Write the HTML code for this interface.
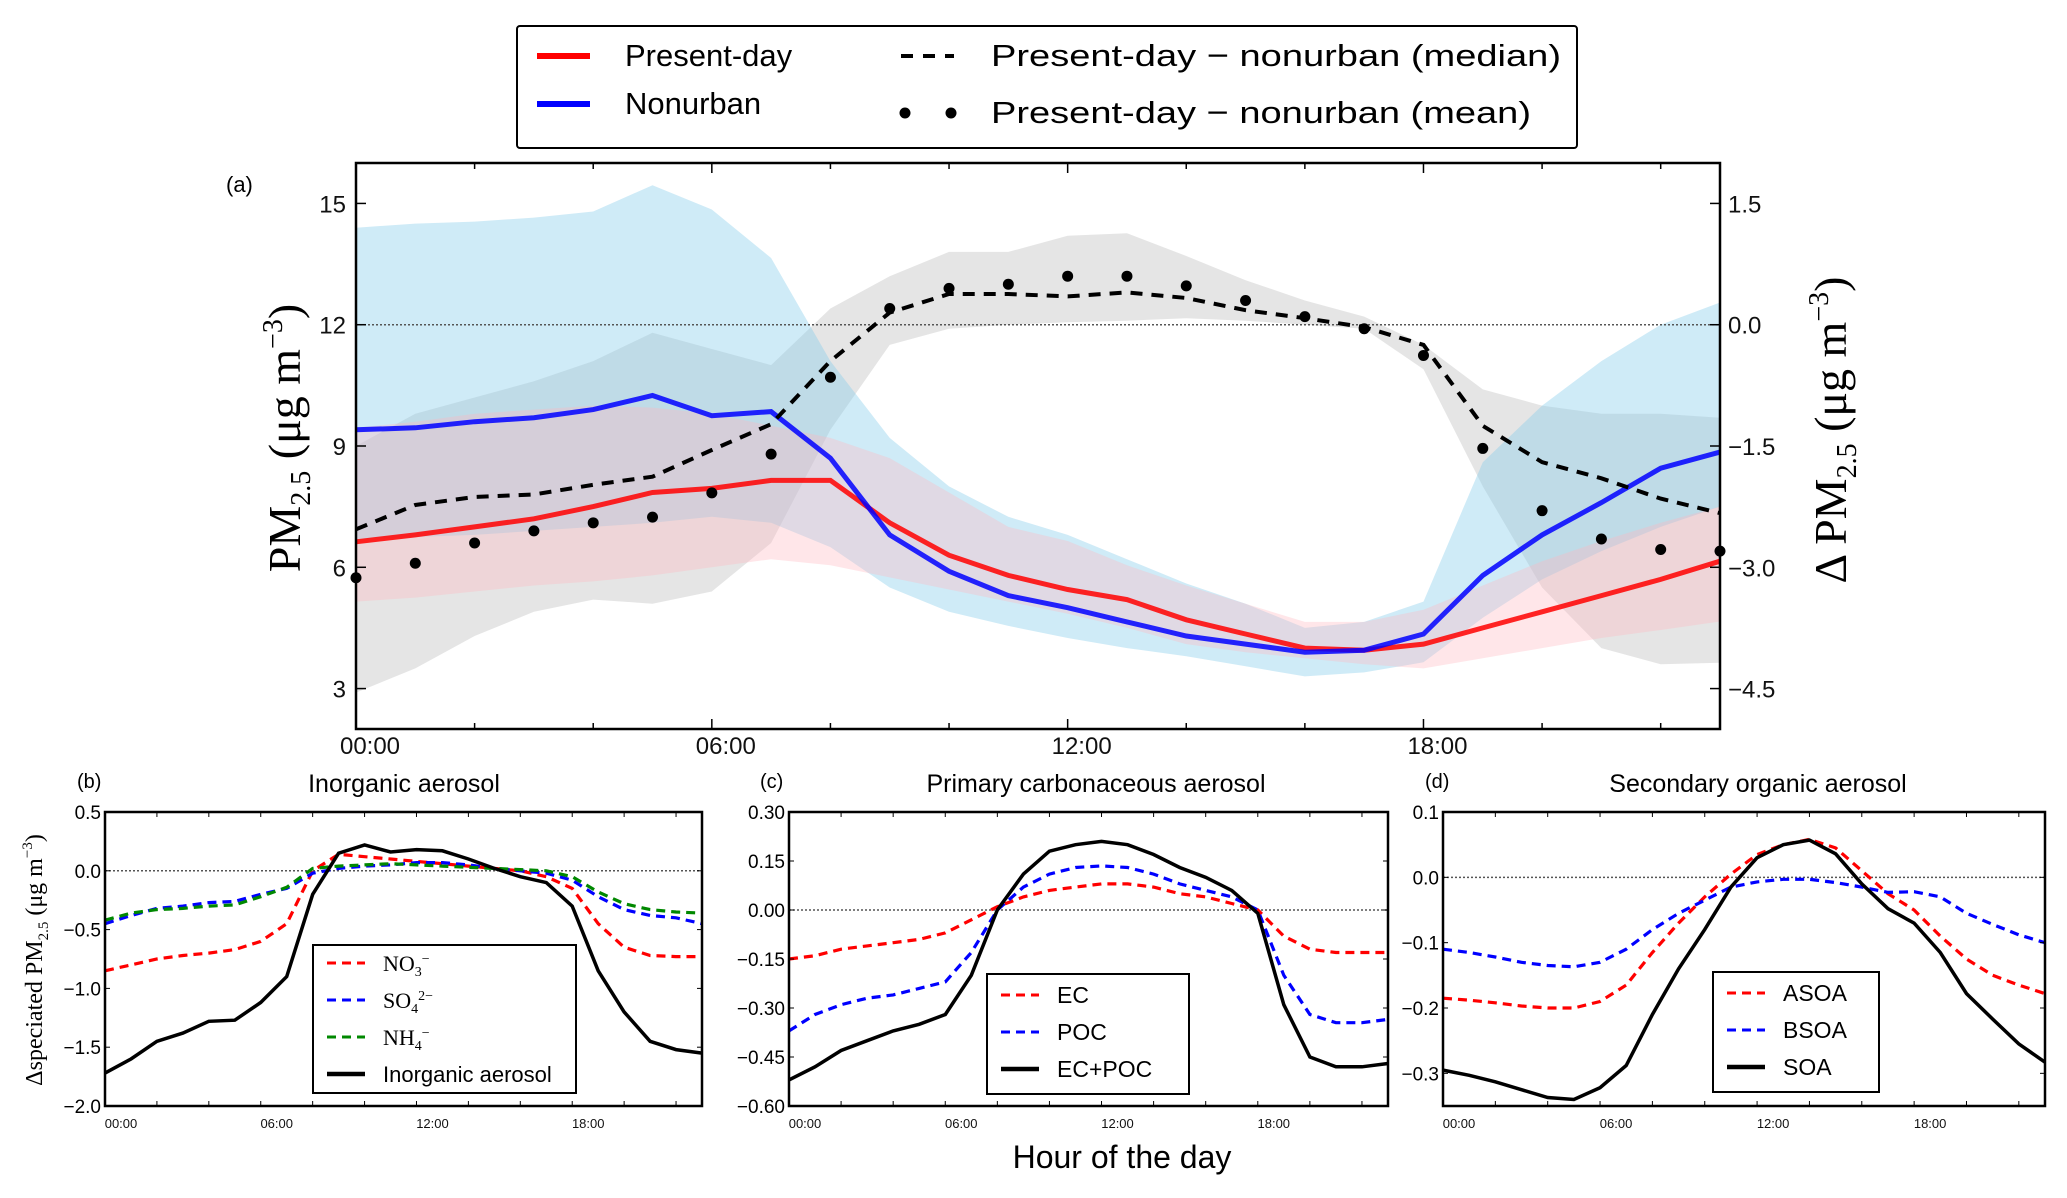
<!DOCTYPE html>
<html><head><meta charset="utf-8"><style>
html,body{margin:0;padding:0;background:#fff;}
svg{display:block;font-family:"Liberation Sans",sans-serif;}
.tk{font-size:24px;fill:#111;}
.tks{font-size:13px;fill:#111;}
</style></head><body>
<svg id="chart" width="2067" height="1198" viewBox="0 0 2067 1198" xmlns="http://www.w3.org/2000/svg">
<rect width="2067" height="1198" fill="#fff"/>
<g id="main"></g>
<g id="pb"></g>
<g id="pc"></g>
<g id="pd"></g>

<g>
<rect x="517" y="26" width="1060" height="122" fill="#fff" stroke="#000" stroke-width="2" rx="3"/>
<line x1="537" y1="56" x2="590" y2="56" stroke="#f00" stroke-width="6"/>
<text x="625" y="66" font-size="31">Present-day</text>
<line x1="537" y1="104" x2="590" y2="104" stroke="#00f" stroke-width="6"/>
<text x="625" y="114" font-size="31">Nonurban</text>
<line x1="901" y1="56" x2="954" y2="56" stroke="#000" stroke-width="4" stroke-dasharray="12,10"/>
<text x="991" y="66" font-size="31" textLength="570" lengthAdjust="spacingAndGlyphs">Present-day − nonurban (median)</text>
<circle cx="905" cy="113" r="5.5" fill="#000"/><circle cx="951" cy="113" r="5.5" fill="#000"/>
<text x="991" y="123" font-size="31" textLength="540" lengthAdjust="spacingAndGlyphs">Present-day − nonurban (mean)</text>
</g>

<text x="226" y="192" font-size="22">(a)</text>
<text transform="translate(300,438) rotate(-90)" text-anchor="middle" font-family="Liberation Serif,serif" font-size="46">PM<tspan font-size="28" dy="10">2.5</tspan><tspan dy="-10"> (μg m</tspan><tspan font-size="28" dy="-18">−3</tspan><tspan dy="18">)</tspan></text>
<text transform="translate(1846,430) rotate(-90)" text-anchor="middle" font-family="Liberation Serif,serif" font-size="46">Δ PM<tspan font-size="28" dy="10">2.5</tspan><tspan dy="-10"> (μg m</tspan><tspan font-size="28" dy="-18">−3</tspan><tspan dy="18">)</tspan></text>

<text x="77" y="788" font-size="20">(b)</text>
<text x="404" y="792" font-size="25" text-anchor="middle">Inorganic aerosol</text>
<text x="760" y="788" font-size="20">(c)</text>
<text x="1096" y="792" font-size="25" text-anchor="middle">Primary carbonaceous aerosol</text>
<text x="1425" y="788" font-size="20">(d)</text>
<text x="1758" y="792" font-size="25" text-anchor="middle">Secondary organic aerosol</text>
<text transform="translate(42,960) rotate(-90)" text-anchor="middle" font-family="Liberation Serif,serif" font-size="24">Δspeciated PM<tspan font-size="15" dy="6">2.5</tspan><tspan dy="-6"> (μg m</tspan><tspan font-size="15" dy="-10">−3</tspan><tspan dy="10">)</tspan></text>
<text x="1122" y="1168" font-size="32" text-anchor="middle">Hour of the day</text>
</svg>
<script>
const hours=[0,1,2,3,4,5,6,7,8,9,10,11,12,13,14,15,16,17,18,19,20,21,22,23];
const presentDay=[6.63,6.8,7.0,7.2,7.5,7.85,7.95,8.15,8.15,7.1,6.3,5.8,5.45,5.2,4.7,4.35,4.0,3.95,4.1,4.5,4.9,5.3,5.7,6.15];
const presentUpper=[9.45,9.6,9.8,9.9,10.0,9.95,9.8,9.5,9.2,8.7,7.85,7.0,6.65,6.05,5.55,5.1,4.65,4.65,4.95,5.55,6.15,6.65,7.1,7.5];
const presentLower=[5.15,5.25,5.4,5.55,5.65,5.8,6.0,6.2,6.05,5.75,5.45,5.15,4.85,4.5,4.1,3.9,3.75,3.6,3.5,3.75,4.0,4.25,4.45,4.66];
const nonurban=[9.4,9.45,9.6,9.7,9.9,10.25,9.75,9.85,8.7,6.8,5.9,5.3,5.0,4.65,4.3,4.1,3.9,3.95,4.35,5.8,6.8,7.6,8.45,8.85];
const nonurbanUpper=[14.4,14.5,14.55,14.65,14.8,15.45,14.85,13.65,11.1,9.2,8.0,7.25,6.8,6.2,5.6,5.1,4.5,4.65,5.15,8.6,10.0,11.1,12.0,12.55];
const nonurbanLower=[6.7,6.75,6.8,6.9,7.0,7.1,7.25,7.1,6.5,5.5,4.9,4.55,4.25,4.0,3.8,3.55,3.3,3.4,3.65,4.75,5.7,6.4,7.0,7.5];
const diffMedian=[-2.53,-2.23,-2.13,-2.1,-1.98,-1.88,-1.55,-1.23,-0.45,0.15,0.38,0.38,0.35,0.4,0.33,0.18,0.08,-0.03,-0.25,-1.25,-1.7,-1.9,-2.15,-2.33];
const diffMean=[-3.13,-2.95,-2.7,-2.55,-2.45,-2.38,-2.08,-1.6,-0.65,0.2,0.45,0.5,0.6,0.6,0.48,0.3,0.1,-0.05,-0.38,-1.53,-2.3,-2.65,-2.78,-2.8];
const diffUpper=[-1.5,-1.1,-0.9,-0.7,-0.45,-0.1,-0.3,-0.5,0.2,0.6,0.9,0.9,1.1,1.13,0.85,0.55,0.3,0.1,-0.25,-0.8,-1.0,-1.1,-1.1,-1.15];
const diffLower=[-4.55,-4.25,-3.85,-3.55,-3.4,-3.45,-3.3,-2.7,-1.3,-0.25,-0.05,0.0,0.03,0.05,0.08,0.05,0.0,-0.05,-0.55,-2.0,-3.25,-4.0,-4.2,-4.18];
const leftTicks=[3,6,9,12,15];
const rightTicks=[-4.5,-3.0,-1.5,0.0,1.5];
const timeTicks=[0,6,12,18];
const timeLabels=["00:00","06:00","12:00","18:00"];

const no3=[-0.85,-0.8,-0.75,-0.72,-0.7,-0.67,-0.6,-0.45,0.0,0.14,0.12,0.1,0.08,0.06,0.04,0.02,0.0,-0.05,-0.15,-0.45,-0.65,-0.72,-0.73,-0.73];
const so4=[-0.45,-0.38,-0.32,-0.3,-0.27,-0.26,-0.2,-0.15,-0.02,0.02,0.04,0.05,0.07,0.07,0.05,0.02,0.0,-0.02,-0.08,-0.22,-0.33,-0.38,-0.4,-0.45];
const nh4=[-0.42,-0.36,-0.33,-0.32,-0.3,-0.29,-0.22,-0.14,0.02,0.04,0.05,0.06,0.05,0.04,0.03,0.02,0.01,0.0,-0.05,-0.18,-0.28,-0.33,-0.35,-0.36];
const inorganic=[-1.72,-1.6,-1.45,-1.38,-1.28,-1.27,-1.12,-0.9,-0.2,0.15,0.22,0.16,0.18,0.17,0.1,0.02,-0.05,-0.1,-0.3,-0.85,-1.2,-1.45,-1.52,-1.55];
const bTicks=[-2.0,-1.5,-1.0,-0.5,0.0,0.5];
const ec=[-0.15,-0.14,-0.12,-0.11,-0.10,-0.09,-0.07,-0.03,0.01,0.04,0.06,0.07,0.08,0.08,0.07,0.05,0.04,0.02,0.0,-0.08,-0.12,-0.13,-0.13,-0.13];
const poc=[-0.37,-0.32,-0.29,-0.27,-0.26,-0.24,-0.22,-0.13,0.0,0.07,0.11,0.13,0.135,0.13,0.11,0.08,0.06,0.04,0.0,-0.2,-0.32,-0.345,-0.345,-0.335];
const ecpoc=[-0.52,-0.48,-0.43,-0.4,-0.37,-0.35,-0.32,-0.2,0.0,0.11,0.18,0.2,0.21,0.2,0.17,0.13,0.1,0.06,-0.01,-0.29,-0.45,-0.48,-0.48,-0.47];
const cTicks=[-0.60,-0.45,-0.30,-0.15,0.00,0.15,0.30];
const asoa=[-0.185,-0.188,-0.192,-0.197,-0.2,-0.2,-0.19,-0.165,-0.115,-0.07,-0.03,0.005,0.035,0.05,0.058,0.045,0.01,-0.025,-0.05,-0.09,-0.125,-0.15,-0.165,-0.178];
const bsoa=[-0.11,-0.115,-0.122,-0.13,-0.135,-0.137,-0.13,-0.11,-0.08,-0.055,-0.035,-0.015,-0.007,-0.003,-0.003,-0.008,-0.015,-0.023,-0.022,-0.03,-0.055,-0.072,-0.088,-0.1];
const soa=[-0.295,-0.303,-0.313,-0.325,-0.337,-0.34,-0.322,-0.288,-0.21,-0.14,-0.08,-0.015,0.03,0.05,0.057,0.036,-0.01,-0.048,-0.07,-0.115,-0.178,-0.217,-0.255,-0.283];
const dTicks=[-0.3,-0.2,-0.1,0.0,0.1];

const NS="http://www.w3.org/2000/svg";
function mk(parent,tag,attrs){const e=document.createElementNS(NS,tag);for(const k in attrs)e.setAttribute(k,attrs[k]);parent.appendChild(e);return e;}
function lin(d0,d1,r0,r1){return v=>r0+(v-d0)*(r1-r0)/(d1-d0);}
function pathD(xs,ys,X,Y){return xs.map((h,i)=>(i?"L":"M")+X(h).toFixed(1)+","+Y(ys[i]).toFixed(1)).join(" ");}
function bandD(xs,up,lo,X,Y){let d=pathD(xs,up,X,Y);for(let i=xs.length-1;i>=0;i--)d+=" L"+X(xs[i]).toFixed(1)+","+Y(lo[i]).toFixed(1);return d+" Z";}

const M=document.getElementById('main');
const L=356,R=1720,T=163,B=729;
const X=lin(0,23,L,R), Y=lin(2,16,B,T), Y2=lin(-5,2,B,T);
let el;
el=mk(M,'path',{d:bandD(hours,diffUpper,diffLower,X,Y2),fill:'#bdbdbd','fill-opacity':0.4});


el=mk(M,'path',{d:bandD(hours,nonurbanUpper,nonurbanLower,X,Y),fill:'#87ceeb','fill-opacity':0.4});


el=mk(M,'path',{d:bandD(hours,presentUpper,presentLower,X,Y),fill:'#ffb6c1','fill-opacity':0.35});


el=mk(M,'line',{x1:L,x2:R,y1:Y2(0),y2:Y2(0),stroke:'#555','stroke-width':1.5,'stroke-dasharray':'2,2'});


el=mk(M,'path',{d:pathD(hours,presentDay,X,Y),fill:'none',stroke:'#f00','stroke-width':5,'stroke-opacity':0.85});


el=mk(M,'path',{d:pathD(hours,nonurban,X,Y),fill:'none',stroke:'#00f','stroke-width':5,'stroke-opacity':0.85});


el=mk(M,'path',{d:pathD(hours,diffMedian,X,Y2),fill:'none',stroke:'#000','stroke-width':4,'stroke-dasharray':'12,9'});


diffMean.forEach((v,i)=>{const c=mk(M,'circle',{cx:X(hours[i]),cy:Y2(v),r:5.5,fill:'#000'});

});
el=mk(M,'rect',{x:L,y:T,width:R-L,height:B-T,fill:'none',stroke:'#000','stroke-width':2.5});


for(let h=2;h<23;h+=2){mk(M,'line',{x1:X(h),x2:X(h),y1:B,y2:B-(h%6?6:10),stroke:'#000','stroke-width':1.5});mk(M,'line',{x1:X(h),x2:X(h),y1:T,y2:T+(h%6?6:10),stroke:'#000','stroke-width':1.5});}
leftTicks.forEach(v=>{mk(M,'line',{x1:L,x2:L+10,y1:Y(v),y2:Y(v),stroke:'#000','stroke-width':1.5});
const t=mk(M,'text',{x:L-10,y:Y(v)+9,'text-anchor':'end',class:'tk'});t.textContent=v;

});
rightTicks.forEach(v=>{mk(M,'line',{x1:R,x2:R-10,y1:Y2(v),y2:Y2(v),stroke:'#000','stroke-width':1.5});
const t=mk(M,'text',{x:R+8,y:Y2(v)+9,class:'tk'});t.textContent=(v<0?'−':'')+Math.abs(v).toFixed(1);

});
timeTicks.forEach((h,i)=>{const t=mk(M,'text',{x:X(h)+14,y:754,'text-anchor':'middle',class:'tk'});t.textContent=timeLabels[i];

});

function panel(g,l,r,ymin,ymax,ticks,fmt,series,leg){
  const t=812,b=1106;
  const x=lin(0,23,l,r), y=lin(ymin,ymax,b,t);
  let e=mk(g,'line',{x1:l,x2:r,y1:y(0),y2:y(0),stroke:'#555','stroke-width':1.5,'stroke-dasharray':'2,2'});
  
  
  series.forEach(s=>{const p=mk(g,'path',{d:pathD(hours,s.v,x,y),fill:'none',stroke:s.c,'stroke-width':s.dash?3.2:3.5});
    if(s.dash)p.setAttribute('stroke-dasharray','9,6');
    
    });
  e=mk(g,'rect',{x:l,y:t,width:r-l,height:b-t,fill:'none',stroke:'#000','stroke-width':2.5});
  
  
  for(let h=2;h<23;h+=2){mk(g,'line',{x1:x(h),x2:x(h),y1:b,y2:b-5,stroke:'#000'});mk(g,'line',{x1:x(h),x2:x(h),y1:t,y2:t+5,stroke:'#000'});}
  ticks.forEach(v=>{mk(g,'line',{x1:l,x2:l+5,y1:y(v),y2:y(v),stroke:'#000'});mk(g,'line',{x1:r,x2:r-5,y1:y(v),y2:y(v),stroke:'#000'});
    const tx=mk(g,'text',{x:l-4,y:y(v)+7,'text-anchor':'end','font-size':19});tx.textContent=fmt(v);
    
    });
  timeTicks.forEach((h,i)=>{const tx=mk(g,'text',{x:x(h)+16,y:1128,'text-anchor':'middle',class:'tks'});tx.textContent=timeLabels[i];
    
    });
  const lg=mk(g,'g',{});
  
  
  mk(lg,'rect',{x:leg.x,y:leg.y,width:leg.w,height:leg.h,fill:'#fff',stroke:'#000','stroke-width':2});
  series.forEach((s,i)=>{const yy=leg.y+leg.y0+i*leg.dy;
    const ln=mk(lg,'line',{x1:leg.x+14,x2:leg.x+52,y1:yy,y2:yy,stroke:s.c,'stroke-width':s.dash?3:4.5});
    if(s.dash)ln.setAttribute('stroke-dasharray','9,6');
    const tx=mk(lg,'text',{x:leg.x+leg.tx,y:yy+8,'font-size':leg.fs});
    tx.innerHTML=s.label;
    
    });
}
const f1=v=>(v<0?'−':'')+Math.abs(v).toFixed(1);
const f2=v=>(v<0?'−':'')+Math.abs(v).toFixed(2);
panel(document.getElementById('pb'),105,702,-2.0,0.5,bTicks,f1,[
 {v:no3,c:'#f00',dash:1,n:'no3',label:'<tspan font-family="Liberation Serif,serif" font-size="22">NO<tspan font-size="14" dy="5">3</tspan><tspan font-size="14" dy="-13">−</tspan></tspan>'},
 {v:so4,c:'#00f',dash:1,n:'so4',label:'<tspan font-family="Liberation Serif,serif" font-size="22">SO<tspan font-size="14" dy="5">4</tspan><tspan font-size="14" dy="-13">2−</tspan></tspan>'},
 {v:nh4,c:'#080',dash:1,n:'nh4',label:'<tspan font-family="Liberation Serif,serif" font-size="22">NH<tspan font-size="14" dy="5">4</tspan><tspan font-size="14" dy="-13">−</tspan></tspan>'},
 {v:inorganic,c:'#000',dash:0,n:'inorganic-aerosol',label:'Inorganic aerosol'}],
 {x:313,y:945,w:263,h:148,y0:18,dy:37,tx:70,fs:22});
panel(document.getElementById('pc'),789,1388,-0.60,0.30,cTicks,f2,[
 {v:ec,c:'#f00',dash:1,n:'ec',label:'EC'},
 {v:poc,c:'#00f',dash:1,n:'poc',label:'POC'},
 {v:ecpoc,c:'#000',dash:0,n:'ec-plus-poc',label:'EC+POC'}],
 {x:987,y:974,w:202,h:120,y0:21,dy:37,tx:70,fs:23});
panel(document.getElementById('pd'),1443,2045,-0.35,0.1,dTicks,f1,[
 {v:asoa,c:'#f00',dash:1,n:'asoa',label:'ASOA'},
 {v:bsoa,c:'#00f',dash:1,n:'bsoa',label:'BSOA'},
 {v:soa,c:'#000',dash:0,n:'soa',label:'SOA'}],
 {x:1713,y:972,w:166,h:120,y0:21,dy:37,tx:70,fs:23});
</script>
</body></html>
